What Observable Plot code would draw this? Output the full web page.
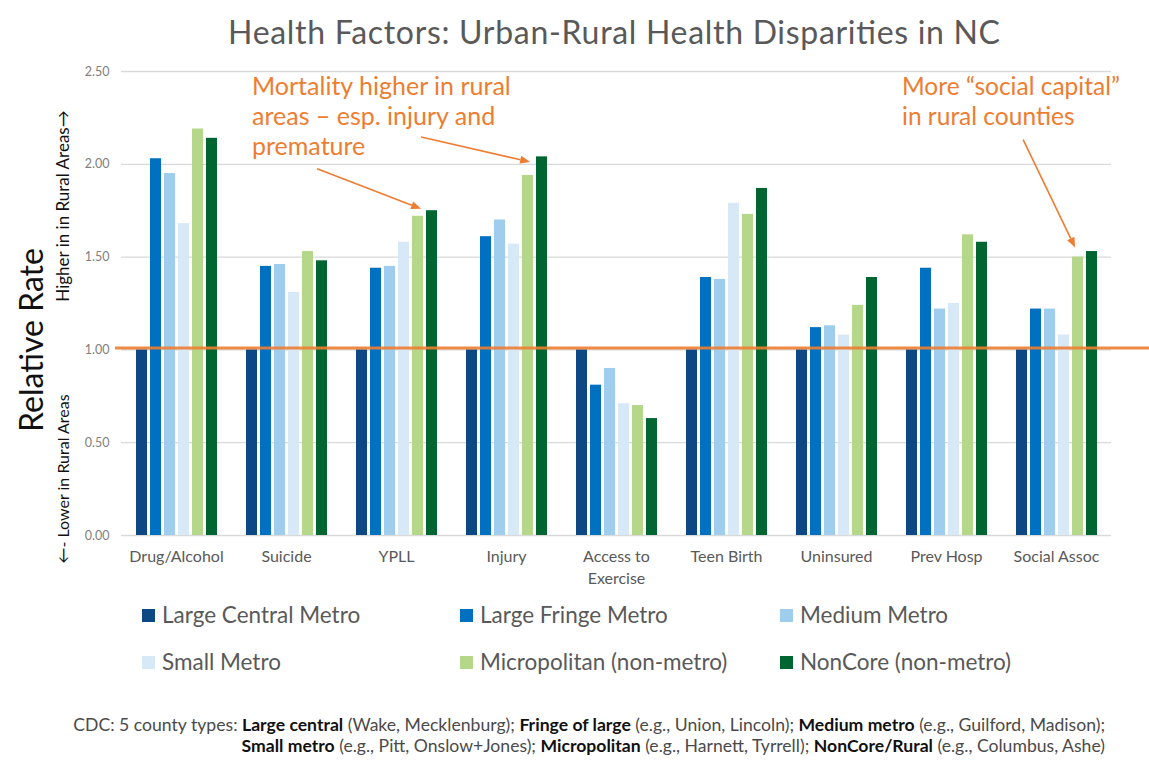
<!DOCTYPE html>
<html>
<head>
<meta charset="utf-8">
<script src="https://cdn.jsdelivr.net/npm/d3@7"></script>
<script src="https://cdn.jsdelivr.net/npm/@observablehq/plot@0.6"></script>
<style>
  body { margin: 0; background: #fff; font-family: Lato, "Open Sans", sans-serif; }
  #wrap { position: relative; width: 1149px; height: 768px; overflow: hidden; background: #fff; }
  #wrap > svg, #wrap > figure, #wrap > div.layer { position: absolute; left: 0; top: 0; margin: 0; }
  .leg { position: absolute; display: flex; align-items: center; font-size: 22.5px; line-height: 28px; color: #595959; white-space: nowrap; }
  .leg span.sw { display: inline-block; width: 13px; height: 13px; margin-right: 7px; }
</style>
</head>
<body>
<div id="wrap"></div>
<script>
// ---------- data ----------
const categories = ["Drug/Alcohol", "Suicide", "YPLL", "Injury", "Access to Exercise", "Teen Birth", "Uninsured", "Prev Hosp", "Social Assoc"];
const categoryLabels = ["Drug/Alcohol", "Suicide", "YPLL", "Injury", "Access to\nExercise", "Teen Birth", "Uninsured", "Prev Hosp", "Social Assoc"];
const series = ["Large Central Metro", "Large Fringe Metro", "Medium Metro", "Small Metro", "Micropolitan (non-metro)", "NonCore (non-metro)"];
const largeCentralMetro = [1.00, 1.00, 1.00, 1.00, 1.00, 1.00, 1.00, 1.00, 1.00];
const largeFringeMetro  = [2.03, 1.45, 1.44, 1.61, 0.81, 1.39, 1.12, 1.44, 1.22];
const mediumMetro       = [1.95, 1.46, 1.45, 1.70, 0.90, 1.38, 1.13, 1.22, 1.22];
const smallMetro        = [1.68, 1.31, 1.58, 1.57, 0.71, 1.79, 1.08, 1.25, 1.08];
const micropolitan      = [2.19, 1.53, 1.72, 1.94, 0.70, 1.73, 1.24, 1.62, 1.50];
const nonCore           = [2.14, 1.48, 1.75, 2.04, 0.63, 1.87, 1.39, 1.58, 1.53];
const seriesValues = [largeCentralMetro, largeFringeMetro, mediumMetro, smallMetro, micropolitan, nonCore];
const seriesColors = ["#0d4784", "#0070c0", "#9fcdee", "#d7e8f7", "#b5d78a", "#006530"];
const yTicks = [0, 0.5, 1, 1.5, 2, 2.5];
const referenceLevel = [1.01];
const titleText = "Health Factors: Urban-Rural Health Disparities in NC";
const annotationTexts = [
  ["Mortality higher in rural", "areas \u2013 esp. injury and", "premature"],
  ["More \u201csocial capital\u201d", "in rural counties"]
];
const captionLines = [
  [["CDC: 5 county types: ", 0], ["Large central", 1], [" (Wake, Mecklenburg); ", 0], ["Fringe of large", 1], [" (e.g., Union, Lincoln); ", 0], ["Medium metro", 1], [" (e.g., Guilford, Madison);", 0]],
  [["Small metro", 1], [" (e.g., Pitt, Onslow+Jones); ", 0], ["Micropolitan", 1], [" (e.g., Harnett, Tyrrell); ", 0], ["NonCore/Rural", 1], [" (e.g., Columbus, Ashe)", 0]]
];

const rows = [];
categories.forEach((c, i) => series.forEach((s, j) => rows.push({category: c, series: s, value: seriesValues[j][i]})));

// ---------- layout ----------
const dims = {width: 1149, height: 600, marginTop: 71, marginBottom: 65, marginLeft: 121, marginRight: 38};
const font = "Lato, 'Open Sans', sans-serif";
const wrap = document.getElementById("wrap");

// background: gridlines + y axis
const bg = Plot.plot({
  ...dims,
  style: {background: "transparent", fontFamily: font},
  y: {domain: [0, 2.5], label: null},
  marks: [
    Plot.ruleY(yTicks, {stroke: "#d9d9d9", strokeWidth: 1.3}),
    Plot.axisY(yTicks, {tickSize: 0, tickPadding: 12, tickFormat: d3.format(".2f"), fontSize: 12.5, fill: "#808080", label: null})
  ]
});
wrap.appendChild(bg);

// bars
const bars = Plot.plot({
  ...dims,
  style: {background: "transparent", fontFamily: font},
  fx: {domain: categories, paddingInner: 0.214, paddingOuter: 0.107, label: null},
  x: {domain: series, paddingInner: 0.23, paddingOuter: 0, axis: null},
  y: {domain: [0, 2.5], axis: null},
  color: {domain: series, range: seriesColors},
  marks: [
    Plot.barY(rows, {fx: "category", x: "series", y: "value", fill: "series"}),
    Plot.axisFx({anchor: "bottom", tickSize: 0, tickPadding: 11, fontSize: 16, fill: "#595959", label: null, lineHeight: 1.38,
      tickFormat: d => categoryLabels[categories.indexOf(d)]})
  ]
});
wrap.appendChild(bars);

// orange reference line over the bars
const ref = Plot.plot({
  ...dims,
  style: {background: "transparent", fontFamily: font},
  y: {domain: [0, 2.5], axis: null},
  marks: [
    Plot.ruleY(referenceLevel, {stroke: "#ed7d31", strokeWidth: 3, strokeOpacity: 0.9, insetLeft: -6, insetRight: -38})
  ]
});
wrap.appendChild(ref);

// ---------- overlay: titles, annotations, arrows, caption ----------
const ov = d3.select(wrap).append("svg").attr("width", 1149).attr("height", 768)
  .style("position", "absolute").style("left", 0).style("top", 0).style("font-family", font);

ov.append("text").attr("x", 614).attr("y", 44).attr("text-anchor", "middle")
  .attr("font-size", 32).attr("fill", "#595959")
  .attr("textLength", 772).attr("lengthAdjust", "spacing").text(titleText);

// y titles
ov.append("text").attr("transform", "translate(43,340) rotate(-90)").attr("text-anchor", "middle")
  .attr("font-size", 32).attr("fill", "#111").text("Relative Rate");
ov.append("text").attr("transform", "translate(69,206) rotate(-90)").attr("text-anchor", "middle")
  .attr("font-size", 17).attr("fill", "#111").text("Higher in in Rural Areas\u2192");
ov.append("text").attr("transform", "translate(69,479) rotate(-90)").attr("text-anchor", "middle")
  .attr("font-size", 16).attr("fill", "#111").text("\u2190- Lower in Rural Areas");

// annotation texts
const orange = "#ed7d31";
annotationTexts[0].forEach((t, i) => ov.append("text").attr("x", 252).attr("y", 95 + i * 30)
  .attr("font-size", 25).attr("fill", orange).text(t));
annotationTexts[1].forEach((t, i) => ov.append("text").attr("x", 902).attr("y", 95 + i * 30)
  .attr("font-size", 24.5).attr("fill", orange).text(t));

// arrows pointing at bars (head located through the bar plot's scales)
const fxS = bars.scale("fx"), xS = bars.scale("x"), yS = bars.scale("y");
const fxBand = d3.scaleBand().domain(fxS.domain).range(fxS.range).paddingInner(fxS.paddingInner ?? 0.214).paddingOuter(fxS.paddingOuter ?? 0.107).align(fxS.align ?? 0.5);
const xBand = d3.scaleBand().domain(xS.domain).range(xS.range).paddingInner(xS.paddingInner ?? 0.23).paddingOuter(xS.paddingOuter ?? 0).align(xS.align ?? 0.5);
function barTop(cat, ser) {
  const i = categories.indexOf(cat), j = series.indexOf(ser);
  const x = fxBand(cat) + (xBand(ser) - xBand.range()[0]) + xBand.bandwidth() / 2;
  const y = yS.apply ? yS.apply(seriesValues[j][i]) : 534.7 - seriesValues[j][i] * 186;
  return [x, y];
}
const arrows = [
  {cat: "YPLL", ser: "Micropolitan (non-metro)", head: [3, -7], tail: [-101, -47]},
  {cat: "Injury", ser: "Micropolitan (non-metro)", head: [2, -13], tail: [-107, -38]},
  {cat: "Social Assoc", ser: "Micropolitan (non-metro)", head: [-3, -9], tail: [-55, -117]}
];
arrows.forEach(a => {
  const [bx, by] = barTop(a.cat, a.ser);
  const hx = bx + a.head[0], hy = by + a.head[1];
  const tx = bx + a.tail[0], ty = by + a.tail[1];
  const ang = Math.atan2(hy - ty, hx - tx);
  const L = 10, Wd = 4;
  const bxh = hx - L * Math.cos(ang), byh = hy - L * Math.sin(ang);
  ov.append("line").attr("x1", tx).attr("y1", ty).attr("x2", bxh).attr("y2", byh)
    .attr("stroke", orange).attr("stroke-width", 1.6);
  const p1 = [bxh + Wd * Math.sin(ang), byh - Wd * Math.cos(ang)];
  const p2 = [bxh - Wd * Math.sin(ang), byh + Wd * Math.cos(ang)];
  ov.append("path").attr("d", `M${hx},${hy}L${p1}L${p2}Z`).attr("fill", orange);
});

// caption
captionLines.forEach((line, k) => {
  const t = ov.append("text").attr("x", 1105).attr("y", 731 + k * 21).attr("text-anchor", "end")
    .attr("font-size", 17.6).attr("fill", "#404040");
  line.forEach(([s, b]) => t.append("tspan").attr("font-weight", b ? 700 : 400).attr("fill", b ? "#111" : "#4a4a4a").text(s));
});

// ---------- legend ----------
const legX = [142, 460, 780], legY = [601, 648];
series.forEach((s, j) => {
  const d = document.createElement("div");
  d.className = "leg";
  d.style.left = legX[j % 3] + "px";
  d.style.top = legY[Math.floor(j / 3)] + "px";
  d.innerHTML = `<span class="sw" style="background:${seriesColors[j]}"></span>${s}`;
  wrap.appendChild(d);
});
</script>
</body>
</html>
